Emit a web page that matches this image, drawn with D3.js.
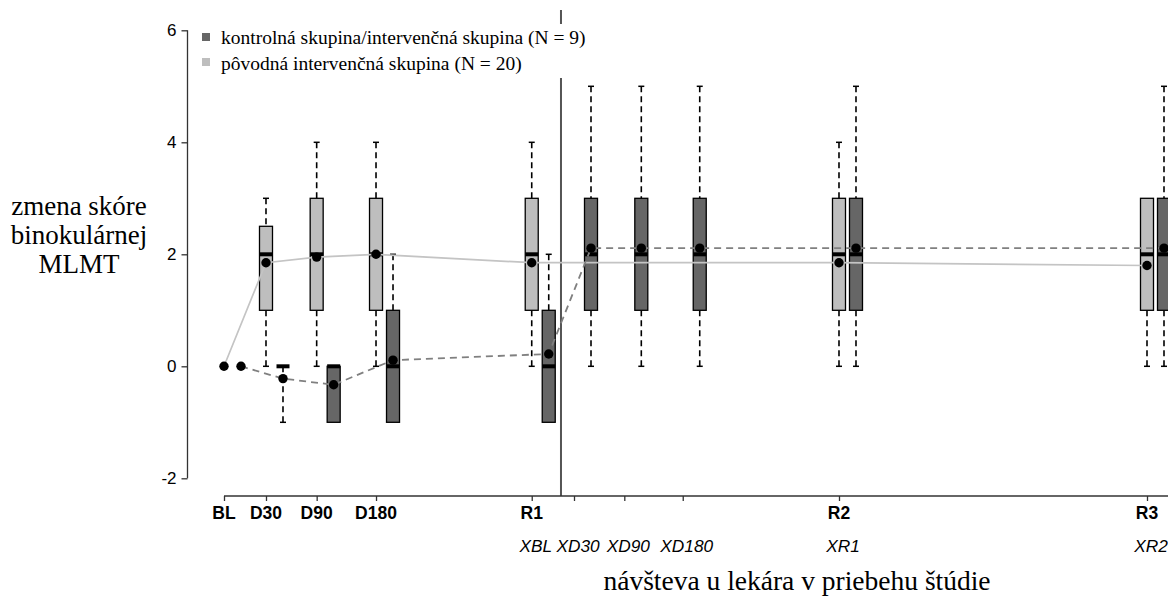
<!DOCTYPE html>
<html>
<head>
<meta charset="utf-8">
<script src="https://cdn.jsdelivr.net/npm/d3@7"></script>
<style>
  body { margin: 0; background: #fff; }
  svg { display: block; }
</style>
</head>
<body>
<div id="chart"></div>
<script>
// x axis: visits laid out on a custom timeline (axis units, not days)
var visitLabels = ["BL", "D30", "D90", "D180", "R1", "R2", "R3"];
var visitAt = [0, 4.55, 10.04, 16.47, 33.34, 66.63, 100];
var crossLabels = ["XBL", "XD30", "XD90", "XD180", "XR1", "XR2"];
var crossAt = [33.34, 37.92, 43.37, 49.70, 66.63, 100];
var switchAt = 36.51; // crossover of the control group

var yTicks = [-2, 0, 2, 4, 6];

// original intervention group (N = 20)
var origVisits = ["BL", "D30", "D90", "D180", "R1", "R2", "R3"];
var origMean = [0, 1.85, 1.95, 2.0, 1.85, 1.85, 1.80];
// [min, q1, median, q3, max]
var origBox = [null, [0, 1, 2, 2.5, 3], [0, 1, 2, 3, 4], [0, 1, 2, 3, 4],
  [0, 1, 2, 3, 4], [0, 1, 2, 3, 4], [0, 1, 2, 3, 3]];

// control group / intervention group (N = 9)
var ctrlVisits = ["BL", "D30", "D90", "D180", "R1", "XD30", "XD90", "XD180", "XR1", "XR2"];
var ctrlMean = [0, -0.22, -0.33, 0.11, 0.22, 2.11, 2.11, 2.11, 2.11, 2.11];
var ctrlBox = [null, [-1, 0, 0, 0, 0], [-1, -1, 0, 0, 0], [-1, -1, 0, 1, 2],
  [-1, -1, 0, 1, 2], [0, 1, 2, 3, 5], [0, 1, 2, 3, 5], [0, 1, 2, 3, 5],
  [0, 1, 2, 3, 5], [0, 1, 2, 3, 5]];

var legendLabels = ["kontrolná skupina/intervenčná skupina (N = 9)", "pôvodná intervenčná skupina (N = 20)"];

var W = 1168, H = 598;
var lightFill = "#bebebe", darkFill = "#666666";
var boxW = 13, dodge = 17;

var svg = d3.select("#chart").append("svg")
  .attr("width", W).attr("height", H);

var x = d3.scaleLinear().domain([0, 100]).range([224, 1147]);
var y = d3.scaleLinear().domain([-2, 6]).range([478.3, 30.3]);

function posOf(v) {
  var i = visitLabels.indexOf(v);
  if (i >= 0) return visitAt[i];
  return crossAt[crossLabels.indexOf(v)];
}

// crossover line
svg.append("line")
  .attr("x1", x(switchAt)).attr("x2", x(switchAt))
  .attr("y1", 10).attr("y2", 496)
  .attr("stroke", "#555").attr("stroke-width", 2);

// y axis
var yAxis = svg.append("g")
  .attr("transform", "translate(187.5,0)")
  .call(d3.axisLeft(y).tickValues(yTicks).tickSize(6).tickPadding(5)
    .tickFormat(function (d) { return String(d); }));
yAxis.select(".domain").attr("stroke", "#333").attr("stroke-width", 1.3).attr("d", "M0," + y(-2) + "V" + y(6));
yAxis.selectAll(".tick line").attr("stroke", "#333").attr("stroke-width", 1.3);
yAxis.selectAll("text").attr("font-family", "Liberation Sans, Arial, sans-serif")
  .attr("font-size", 17).attr("fill", "#000");

// x axis
var allTicks = visitAt.concat(crossAt.filter(function (c) { return visitAt.indexOf(c) < 0; }));
var xAxis = svg.append("g")
  .attr("transform", "translate(0,496)")
  .call(d3.axisBottom(x).tickValues(allTicks).tickSize(5).tickFormat(""));
xAxis.select(".domain").attr("stroke", "#333").attr("stroke-width", 1.3).attr("d", "M" + x(0) + ",0H" + W);
xAxis.selectAll(".tick line").attr("stroke", "#333").attr("stroke-width", 1.3);

svg.append("g").selectAll("text")
  .data(visitLabels).enter().append("text")
  .attr("x", function (d, i) { return x(visitAt[i]); })
  .attr("y", 519)
  .attr("text-anchor", "middle")
  .attr("font-family", "Liberation Sans, Arial, sans-serif")
  .attr("font-weight", "bold").attr("font-size", 17.5)
  .text(function (d) { return d; });

svg.append("g").selectAll("text")
  .data(crossLabels).enter().append("text")
  .attr("x", function (d, i) { return x(crossAt[i]) + 4; })
  .attr("y", 552)
  .attr("text-anchor", "middle")
  .attr("font-family", "Liberation Sans, Arial, sans-serif")
  .attr("font-style", "italic").attr("font-size", 17.3)
  .text(function (d) { return d; });

// axis titles
svg.append("text")
  .attr("x", 797).attr("y", 590)
  .attr("text-anchor", "middle")
  .attr("font-family", "Liberation Serif, Times New Roman, serif")
  .attr("font-size", 27.5)
  .text("návšteva u lekára v priebehu štúdie");

svg.append("text")
  .attr("text-anchor", "middle")
  .attr("font-family", "Liberation Serif, Times New Roman, serif")
  .attr("font-size", 27)
  .selectAll("tspan")
  .data(["zmena skóre", "binokulárnej", "MLMT"]).enter().append("tspan")
  .attr("x", 79).attr("y", function (d, i) { return 215 + i * 29; })
  .text(function (d) { return d; });

// boxplots
function drawBox(g, cx, s, fill) {
  var half = boxW / 2;
  // whiskers
  [[s[3], s[4]], [s[1], s[0]]].forEach(function (w) {
    if (w[1] === w[0]) return;
    g.append("line")
      .attr("x1", cx).attr("x2", cx)
      .attr("y1", y(w[1])).attr("y2", y(w[0]))
      .attr("stroke", "#000").attr("stroke-width", 1.6)
      .attr("stroke-dasharray", "6,4");
    g.append("line")
      .attr("x1", cx - 3).attr("x2", cx + 3)
      .attr("y1", y(w[1])).attr("y2", y(w[1]))
      .attr("stroke", "#000").attr("stroke-width", 1.5);
  });
  g.append("rect")
    .attr("x", cx - half).attr("width", boxW)
    .attr("y", y(s[3])).attr("height", y(s[1]) - y(s[3]))
    .attr("fill", fill).attr("stroke", "#000").attr("stroke-width", 1.3);
  g.append("line")
    .attr("x1", cx - half).attr("x2", cx + half)
    .attr("y1", y(s[2])).attr("y2", y(s[2]))
    .attr("stroke", "#000").attr("stroke-width", 4);
}

var boxes = svg.append("g");
origVisits.forEach(function (v, i) {
  if (origBox[i]) drawBox(boxes, x(posOf(v)), origBox[i], lightFill);
});
ctrlVisits.forEach(function (v, i) {
  if (ctrlBox[i]) drawBox(boxes, x(posOf(v)) + dodge, ctrlBox[i], darkFill);
});

// mean lines
var origPts = origVisits.map(function (v, i) { return [x(posOf(v)), y(origMean[i])]; });
var ctrlPts = ctrlVisits.map(function (v, i) { return [x(posOf(v)) + dodge, y(ctrlMean[i])]; });

svg.append("path")
  .attr("d", d3.line()(origPts))
  .attr("fill", "none").attr("stroke", "#c4c4c4").attr("stroke-width", 1.7);
svg.append("path")
  .attr("d", d3.line()(ctrlPts))
  .attr("fill", "none").attr("stroke", "#808080").attr("stroke-width", 1.8)
  .attr("stroke-dasharray", "7,5");

svg.append("g").selectAll("circle")
  .data(origPts.concat(ctrlPts)).enter().append("circle")
  .attr("cx", function (d) { return d[0]; })
  .attr("cy", function (d) { return d[1]; })
  .attr("r", 4.7).attr("fill", "#000");

// legend
var legend = svg.append("g");
legend.append("rect")
  .attr("x", 196).attr("y", 24).attr("width", 404).attr("height", 54)
  .attr("fill", "#fff");
legend.selectAll("rect.key")
  .data([darkFill, lightFill]).enter().append("rect")
  .attr("class", "key")
  .attr("x", 202).attr("y", function (d, i) { return 33 + i * 25; })
  .attr("width", 8).attr("height", 8)
  .attr("fill", function (d) { return d; });
legend.selectAll("text")
  .data(legendLabels).enter().append("text")
  .attr("x", 221).attr("y", function (d, i) { return 44 + i * 26; })
  .attr("font-family", "Liberation Serif, Times New Roman, serif")
  .attr("font-size", 19.5)
  .text(function (d) { return d; });
</script>
</body>
</html>
